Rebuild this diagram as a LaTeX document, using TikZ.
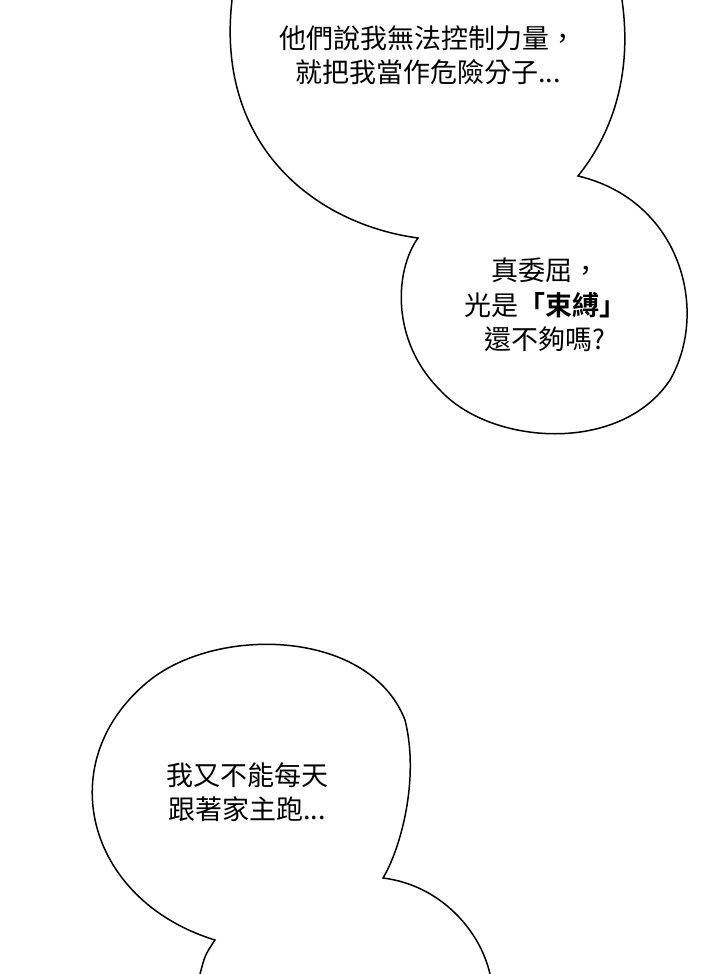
\documentclass[tikz,border=0pt]{standalone}
\usepackage{fontspec}
\newfontfamily\cjk{Noto Sans CJK TC}
\newfontfamily\cjkbold{Noto Sans CJK TC Bold}
\begin{document}
\begin{tikzpicture}[x=1pt,y=-1pt]
    \tikzstyle{bubble}=[draw=black,line width=1.5pt,fill=white]
    \tikzstyle{speech}=[align=center,font=\cjk\fontsize{27}{34.5}\selectfont]

    \useasboundingbox[fill=white] (0,0) rectangle (720,974);

    % Top bubble joined with the middle bubble
    \path[bubble] (232,0) .. controls (215,150) and (320,225) .. (418,238)
        .. controls (395,270) and (390,340) .. (440,390)
        .. controls (490,445) and (620,455) .. (670,380)
        .. controls (710,310) and (680,200) .. (578,176)
        .. controls (615,130) and (632,70) .. (622,0);

    % Lower bubble
    \path[bubble] (200,974) .. controls (205,955) .. (215,940)
        .. controls (85,900) and (50,760) .. (150,680)
        .. controls (220,625) and (370,630) .. (405,720)
        .. controls (420,780) and (400,850) .. (383,878)
        .. controls (440,885) and (480,930) .. (490,974);

    % Texts
    \node[speech] (t1) at (428,55) {他們說我無法控制力量，\\就把我當作危險分子...};
    \node[speech] (t2) at (545,305) {真委屈，\\光是{\cjkbold「束縛」}\\還不夠嗎?};
    \node[speech] (t3) at (247,792) {我又不能每天\\跟著家主跑...};
\end{tikzpicture}
\end{document}
